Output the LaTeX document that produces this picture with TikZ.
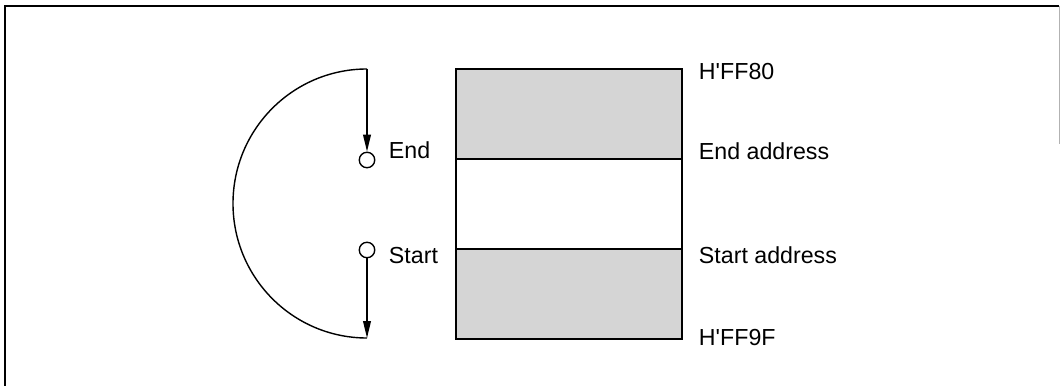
\documentclass[tikz,border=0pt]{standalone}
\usepackage{fontspec}
\setmainfont{Liberation Sans}
\usetikzlibrary{arrows.meta,positioning}

\begin{document}
\begin{tikzpicture}[every node/.style={font=\fontsize{16.5}{18}\selectfont},
  flow/.style={line width=1pt},
  tip/.style={-{Triangle[length=12pt,width=5.5pt]}},
  ring/.style={circle,draw,line width=1pt,minimum size=11pt,inner sep=0pt},
  block/.style={draw,line width=1.5pt,minimum width=5.65cm,minimum height=2.25cm,inner sep=0pt,outer sep=0pt}]
\useasboundingbox (0,0) rectangle (26.5,-9.65);
\draw[line width=1.5pt] (0.125,-9.65)--(0.125,-0.15)--(26.475,-0.15);
\draw[gray!60,line width=.6pt] (26.475,-0.15)--(26.475,-3.6);
% memory area
\node[block,fill=gray!33,anchor=north west] (hi) at (11.4,-1.725) {};
\node[block,below=0pt of hi] (mid) {};
\node[block,fill=gray!33,below=0pt of mid] (lo) {};
\node[anchor=west] (top) at (17.35,-1.79) {H\textquotesingle FF80};
\node[anchor=west] (endadr) at (17.35,-3.79) {End address};
\node[anchor=west] (stadr) at (17.35,-6.39) {Start address};
\node[anchor=west] (bottom) at (17.35,-8.45) {H\textquotesingle FF9F};
% transfer loop
\coordinate (from) at (9.175,-1.725);
\coordinate (to) at (9.175,-8.45);
\node[ring] (endc) at (9.175,-4.0) {};
\node[ring] (startc) at (9.175,-6.25) {};
\node[anchor=west] (endlbl) at (9.6,-3.75) {End};
\node[anchor=west] (startlbl) at (9.6,-6.4) {Start};
\draw[flow,tip] (from)--(endc);
\draw[flow,tip] (startc)--(to);
\draw[flow] (from) arc[start angle=90,end angle=270,x radius=3.35cm,y radius=3.3625cm];
\end{tikzpicture}
\end{document}
